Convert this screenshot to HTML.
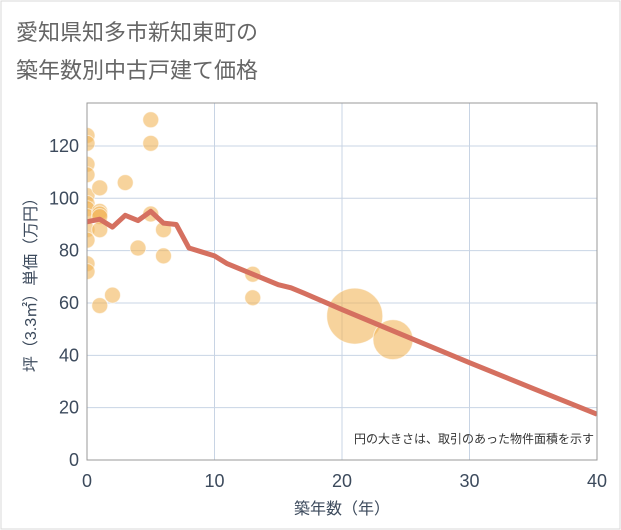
<!DOCTYPE html>
<html><head><meta charset="utf-8"><style>
body{margin:0;background:#fff;}
svg{display:block;font-family:"Liberation Sans","Noto Sans CJK JP",sans-serif;}
</style></head><body>
<svg width="621" height="530">
<defs><clipPath id="plotclip"><rect x="87" y="103" width="510" height="357"/></clipPath></defs>
<rect x="1" y="1" width="619" height="528" fill="#fff" stroke="#d8d8d8"/>
<text x="16" y="40" font-size="22" fill="#666">愛知県知多市新知東町の</text>
<text x="16" y="78" font-size="22" fill="#666">築年数別中古戸建て価格</text>
<g id="grid"></g>
<g id="pts" clip-path="url(#plotclip)"></g>
<path id="line" fill="none" stroke="#d57060" stroke-width="5" stroke-linejoin="round" clip-path="url(#plotclip)"/>
<rect x="87" y="103" width="510" height="357" fill="none" stroke="#999" stroke-width="1"/>
<g id="ticks"></g>
<text x="594" y="443" font-size="12" fill="#333" text-anchor="end">円の大きさは、取引のあった物件面積を示す</text>
<text x="342" y="514" font-size="16" fill="#3c4a5c" text-anchor="middle">築年数（年）</text>
<text transform="translate(36,281) rotate(-90)" font-size="16" fill="#3c4a5c" text-anchor="middle">坪（3.3㎡）単価（万円）</text>
</svg>
<script>
const xTicks=[0,10,20,30,40];
const yTicks=[0,20,40,60,80,100,120];
const ptX=[0,0,0,0,0,0,0,0,0,0,0,0,1,1,1,1,1,1,2,3,4,5,5,5,6,6,13,13,21,24];
const ptY=[124,121,113,109,101,98,96,93,88,84,75,72,104,95,94,93,88,59,63,106,81,130,121,94,88,78,71,62,55,46];
const ptR=[8,8,8,8,8,8,8,8,8,8,8,8,8,8,8,8,8,8,8,8,8,8,8,8,8,8,8,8,28,20];
const lineX=[0,1,2,3,4,5,6,7,8,9,10,11,12,13,14,15,16,17,20,25,30,35,40];
const lineY=[91,92,89,93.5,91.5,95,90.5,90,81,79.5,78,75,73,71,69,67,65.8,63.8,57.5,47.3,37.2,27.3,17.5];
const X=v=>87+v*12.75, Y=v=>460-v*2.617;
const NS="http://www.w3.org/2000/svg";
const grid=document.getElementById('grid'),ticks=document.getElementById('ticks'),pts=document.getElementById('pts');
xTicks.forEach(t=>{
 if(t>0&&t<40){const l=document.createElementNS(NS,'line');
 l.setAttribute('x1',X(t));l.setAttribute('x2',X(t));l.setAttribute('y1',103);l.setAttribute('y2',460);l.setAttribute('stroke','#c8d4e4');
 
 grid.appendChild(l);}
 const s=document.createElementNS(NS,'text');s.setAttribute('x',X(t));s.setAttribute('y',487);s.setAttribute('font-size','18');s.setAttribute('fill','#3c4a5c');s.setAttribute('text-anchor','middle');s.textContent=t;
 
 ticks.appendChild(s);
});
yTicks.forEach(t=>{
 if(t>0){const l=document.createElementNS(NS,'line');
 l.setAttribute('x1',87);l.setAttribute('x2',597);l.setAttribute('y1',Y(t));l.setAttribute('y2',Y(t));l.setAttribute('stroke','#c8d4e4');
 
 grid.appendChild(l);}
 const s=document.createElementNS(NS,'text');s.setAttribute('x',79);s.setAttribute('y',Y(t)+6);s.setAttribute('font-size','18');s.setAttribute('fill','#3c4a5c');s.setAttribute('text-anchor','end');s.textContent=t;
 
 ticks.appendChild(s);
});
ptX.forEach((v,i)=>{
 const c=document.createElementNS(NS,'circle');c.setAttribute('cx',X(v));c.setAttribute('cy',Y(ptY[i]));c.setAttribute('r',ptR[i]);
 c.setAttribute('fill','rgba(242,182,90,0.6)');c.setAttribute('stroke','rgba(255,255,255,0.6)');c.setAttribute('stroke-width','1');
 
 pts.appendChild(c);
});
document.getElementById('line').setAttribute('d',lineX.map((v,i)=>(i?'L':'M')+X(v)+','+Y(lineY[i])).join(''));
</script>
</body></html>
